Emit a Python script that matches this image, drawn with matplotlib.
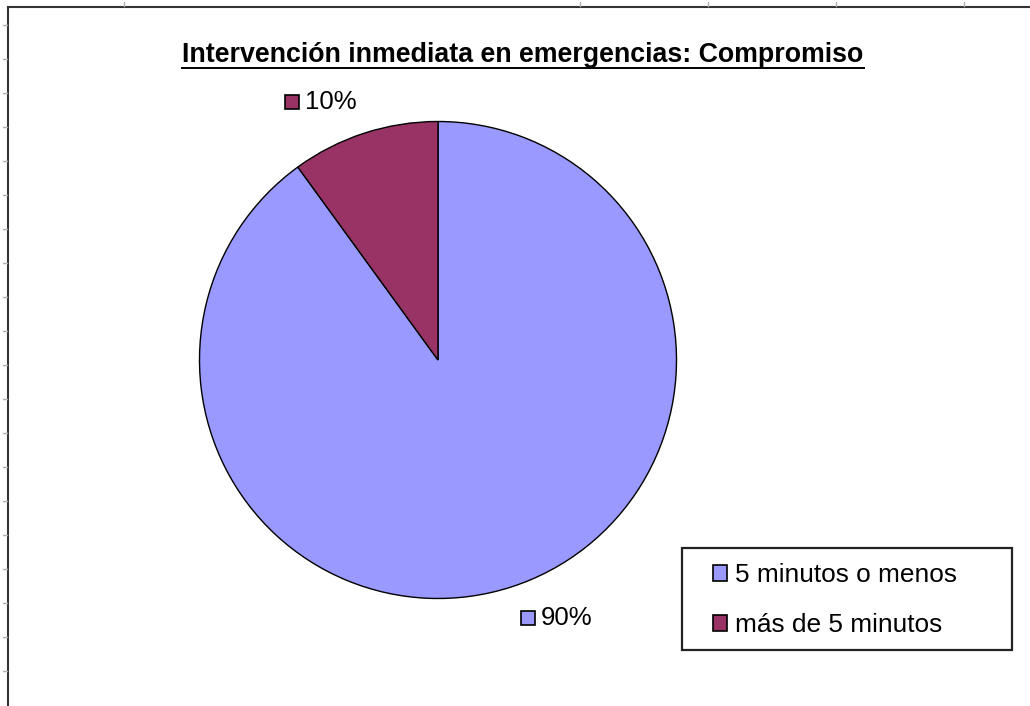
import numpy as np
import matplotlib
matplotlib.use("Agg")
import matplotlib.pyplot as plt
from matplotlib import font_manager
from matplotlib.lines import Line2D
from matplotlib.patches import Patch, Rectangle
from matplotlib.transforms import offset_copy, IdentityTransform

# Данные
categories = ["5 minutos o menos", "más de 5 minutos"]
values = [90, 10]
colors = ["#9999FF", "#993366"]
title_text = "Intervención inmediata en emergencias: Compromiso"

W, H = 1030, 706
fonts = {f.name for f in font_manager.fontManager.ttflist}
base_font = "Liberation Sans" if "Liberation Sans" in fonts else "DejaVu Sans"
title_font = "Liberation Sans Narrow" if "Liberation Sans Narrow" in fonts else base_font
plt.rcParams["font.family"] = [base_font, "DejaVu Sans"]

fig = plt.figure(figsize=(W / 100, H / 100), dpi=100)
fig.patch.set_facecolor("white")

# Оси под круг: центр (438, 360) px, радиус 238.5 px
cx, cy, r = 438, 360, 238.5
ax = fig.add_axes([(cx - r) / W, (H - cy - r) / H, 2 * r / W, 2 * r / H])
wedges, _ = ax.pie(values, colors=colors, startangle=90, counterclock=False,
                   radius=1.0, wedgeprops=dict(edgecolor="black", linewidth=1.0))
ax.set_xlim(-1, 1)
ax.set_ylim(-1, 1)
ax.set_aspect("equal")
ax.axis("off")

# Подписи с процентами
for w, v, c in zip(wedges, values, colors):
    ang = np.deg2rad((w.theta1 + w.theta2) / 2 + 6.5)
    x, y = 1.19 * np.cos(ang), 1.19 * np.sin(ang)
    tr_m = offset_copy(ax.transData, fig=fig, x=-28, y=0, units="dots")
    ax.plot([x], [y], marker="s", markersize=9.5, markerfacecolor=c,
            markeredgecolor="black", markeredgewidth=1.2, transform=tr_m, clip_on=False)
    tr_t = offset_copy(ax.transData, fig=fig, x=-15, y=0, units="dots")
    ax.text(x, y, "%d%%" % v, transform=tr_t, ha="left", va="center",
            fontsize=18.5, color="black")

# Заголовок
title = fig.text(523 / W, 1 - 62 / H, title_text, ha="center", va="baseline",
                 fontsize=19.3, fontweight="bold", family=[title_font, "DejaVu Sans"])
fig.canvas.draw()
bb = title.get_window_extent()
fig.add_artist(Line2D([bb.x0, bb.x1], [H - 67.5, H - 67.5], transform=IdentityTransform(),
                      color="black", linewidth=1.4))

# Легенда: рамка отдельно, содержимое без рамки
fig.add_artist(Rectangle((682 / W, 1 - 650 / H), 330 / W, 102 / H, facecolor="white",
                         edgecolor="#222222", linewidth=1.6, zorder=1))
handles = [Patch(facecolor=c, edgecolor="black", linewidth=1.2) for c in colors]
leg = fig.legend(handles, categories, loc="upper left",
                 bbox_to_anchor=(713 / W, 1 - 563 / H),
                 fontsize=18.9, frameon=False, borderpad=0,
                 labelspacing=1.0, handlelength=0.55, handleheight=0.55,
                 handletextpad=0.3, borderaxespad=0)
leg.set_zorder(2)
for t in leg.get_texts():
    t.set_color("black")

# Рамка области диаграммы и отметки
fig.add_artist(Line2D([8 / W, 8 / W], [0, 1 - 6.5 / H], color="#333333", linewidth=1.5))
fig.add_artist(Line2D([8 / W, 1], [1 - 6.5 / H, 1 - 6.5 / H], color="#333333", linewidth=1.5))
for k in range(20):
    yy = 1 - (25 + 34 * k) / H
    fig.add_artist(Line2D([3 / W, 7 / W], [yy, yy], color="#b0b0b0", linewidth=1))
for xx in [124, 580, 708, 836, 964]:
    fig.add_artist(Line2D([xx / W, xx / W], [1 - 2 / H, 1 - 6 / H], color="#b0b0b0", linewidth=1))

fig.savefig("out.png", dpi=100)
